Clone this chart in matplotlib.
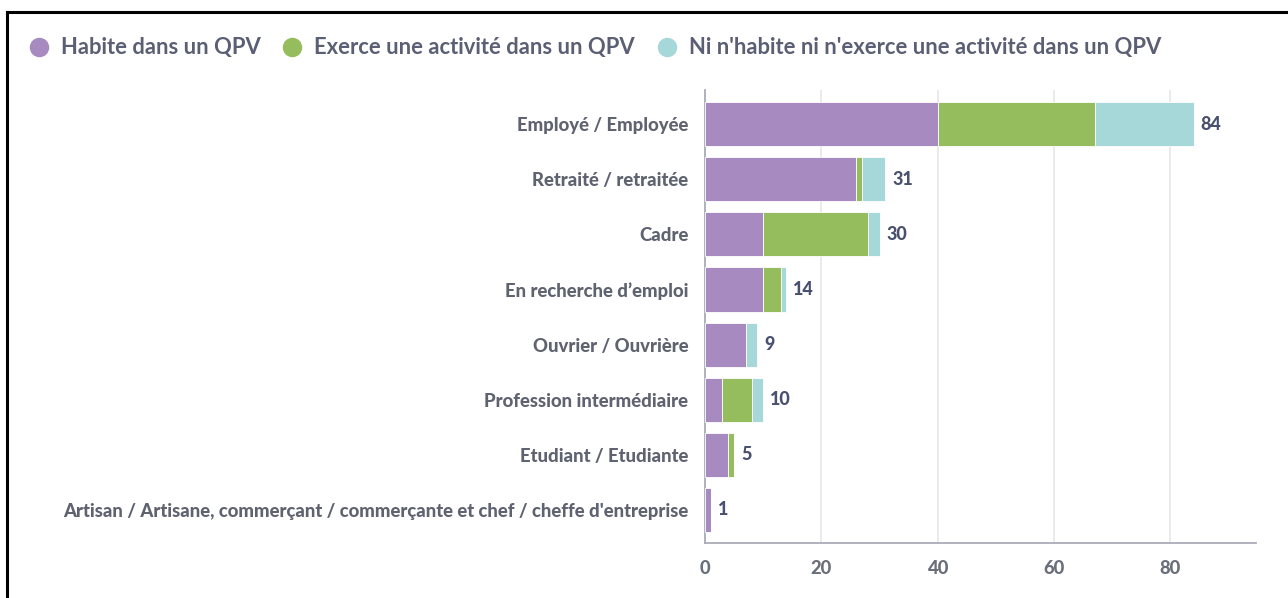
import matplotlib
matplotlib.use("Agg")
import matplotlib.pyplot as plt
from matplotlib import font_manager
from matplotlib.font_manager import FontProperties
from matplotlib.lines import Line2D

categories = [
    "Employé / Employée",
    "Retraité / retraitée",
    "Cadre",
    "En recherche d’emploi",
    "Ouvrier / Ouvrière",
    "Profession intermédiaire",
    "Etudiant / Etudiante",
    "Artisan / Artisane, commerçant / commerçante et chef / cheffe d'entreprise",
]
habite = [40, 26, 10, 10, 7, 3, 4, 1]
exerce = [27, 1, 18, 3, 0, 5, 1, 0]
ni = [17, 4, 2, 1, 2, 2, 0, 0]
series_names = [
    "Habite dans un QPV",
    "Exerce une activité dans un QPV",
    "Ni n'habite ni n'exerce une activité dans un QPV",
]
colors = ["#a68ac0", "#95bd5e", "#a7d8d9"]


def lato(fichier, taille):
    for f in font_manager.fontManager.ttflist:
        if f.fname.endswith(fichier):
            return FontProperties(fname=f.fname, size=taille)
    return FontProperties(family="DejaVu Sans", weight="bold", size=taille)


plt.rcParams["font.family"] = ["Lato", "DejaVu Sans"]
fp_tick = lato("Lato-Black.ttf", 13.3)
fp_val = lato("Lato-Black.ttf", 13)
fp_leg = lato("Lato-Bold.ttf", 15.8)

fig = plt.figure(figsize=(12.88, 5.98), dpi=100)
ax = fig.add_axes([0.5474, 0.092, 0.4276, 0.7575])

y = list(range(len(categories)))
left = [0] * len(categories)
for vals, col in zip([habite, exerce, ni], colors):
    ax.barh(y, vals, left=left, height=0.8, color=col, edgecolor="white",
            linewidth=0.6, zorder=3)
    left = [a + b for a, b in zip(left, vals)]

for yi, tot in zip(y, left):
    ax.text(tot + 1.2, yi, str(tot), va="center", ha="left",
            fontproperties=fp_val, color="#4a5070")

ax.set_ylim(7.6, -0.62)
ax.set_xlim(0, 94.7)
ax.set_yticks(y)
ax.set_yticklabels(categories, fontproperties=fp_tick, color="#5f6370")
ax.set_xticks([0, 20, 40, 60, 80])
ax.set_xticklabels(["0", "20", "40", "60", "80"], fontproperties=fp_tick,
                   color="#6b6f7a")
ax.tick_params(axis="y", length=0, pad=12)
ax.tick_params(axis="x", length=0, pad=12)
ax.grid(axis="x", color="#e6e6e9", linewidth=1.2, zorder=0)
for s in ["top", "right"]:
    ax.spines[s].set_visible(False)
ax.spines["left"].set_color("#a9acb8")
ax.spines["bottom"].set_color("#a9acb8")
ax.spines["left"].set_linewidth(1.3)
ax.spines["bottom"].set_linewidth(1.3)

handles = [Line2D([], [], marker="o", linestyle="none", markersize=13,
                  markerfacecolor=c, markeredgecolor=c) for c in colors]
fig.legend(handles, series_names, loc="center left",
           bbox_to_anchor=(0.0132, 0.92), ncol=3, frameon=False,
           prop=fp_leg, labelcolor="#5a5f73", borderpad=0,
           handletextpad=0.5, columnspacing=0.95, handlelength=1.0)

# cadre noir autour de l'image
fig.add_artist(Line2D([0.0054, 1.0], [0.98, 0.98], color="black",
                      linewidth=2.2, transform=fig.transFigure))
fig.add_artist(Line2D([0.0054, 0.0054], [0.0, 0.98], color="black",
                      linewidth=2.2, transform=fig.transFigure))

fig.savefig("out.png", dpi=100)
